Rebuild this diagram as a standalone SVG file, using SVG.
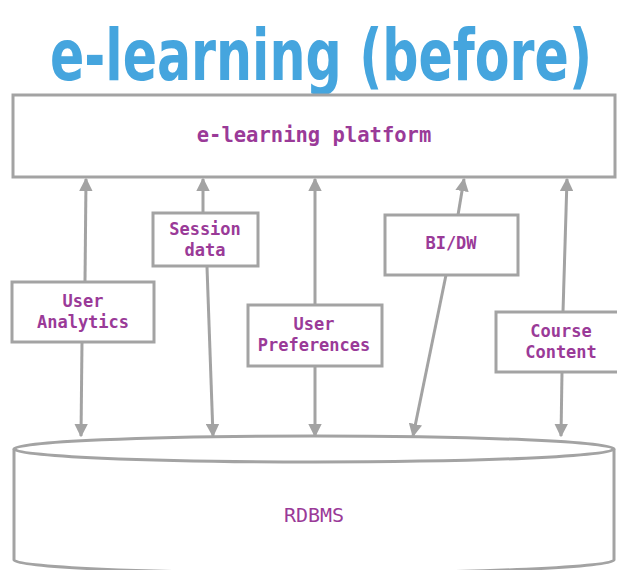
<svg xmlns="http://www.w3.org/2000/svg" width="617" height="570" viewBox="0 0 617 570">
<defs>
<marker id="ah" viewBox="0 0 10 10" refX="9" refY="5" markerWidth="4.5" markerHeight="4.5" orient="auto" markerUnits="strokeWidth">
<path d="M0,0 L10,5 L0,10 Z" fill="#a3a3a3"/>
</marker>
<style>
.box{fill:#fff;stroke:#a3a3a3;stroke-width:3}
.lbl{font-family:"DejaVu Sans Mono","Liberation Mono",monospace;font-weight:bold;font-size:17px;fill:#9a3a98;text-anchor:middle}
.big{font-size:20.5px}
.con{stroke:#a3a3a3;stroke-width:3;fill:none;marker-end:url(#ah)}
</style>
</defs>
<rect width="617" height="570" fill="#fff"/>
<text transform="translate(321,80) scale(1,1.3)" x="0" y="0" font-family="'DejaVu Sans Condensed','DejaVu Sans',sans-serif" font-weight="bold" font-size="55" fill="#45a5de" text-anchor="middle" textLength="542" lengthAdjust="spacingAndGlyphs">e-learning (before)</text>

<g id="rdbms">
<path class="box" d="M14,449 L14,560 A300,13 0 0 0 614,560 L614,449 A300,13 0 0 0 14,449 Z"/>
<path d="M14,449 A300,13 0 0 0 614,449" fill="none" stroke="#a3a3a3" stroke-width="3"/>
<text x="314" y="522" font-family="'DejaVu Sans Mono',monospace" font-size="20" fill="#9a3a98" text-anchor="middle">RDBMS</text>
</g>

<g id="connectors">
<line class="con" x1="85" y1="282" x2="86" y2="179"/>
<line class="con" x1="82" y1="342" x2="81" y2="436"/>
<line class="con" x1="203" y1="212" x2="203" y2="179"/>
<line class="con" x1="207" y1="267" x2="213" y2="436"/>
<line class="con" x1="315" y1="304" x2="315" y2="179"/>
<line class="con" x1="315" y1="366" x2="315" y2="436"/>
<line class="con" x1="458" y1="215" x2="464" y2="179"/>
<line class="con" x1="446" y1="275" x2="413" y2="436"/>
<line class="con" x1="563" y1="312" x2="567" y2="179"/>
<line class="con" x1="562" y1="372" x2="561" y2="436"/>
</g>

<g id="platform">
<rect class="box" x="13" y="95" width="602" height="82"/>
<text class="lbl big" x="314" y="142">e-learning platform</text>
</g>

<g id="user-analytics">
<rect class="box" x="12" y="282" width="142" height="60"/>
<text class="lbl" x="83" y="307">User</text>
<text class="lbl" x="83" y="328">Analytics</text>
</g>

<g id="session-data">
<rect class="box" x="153" y="213" width="105" height="53"/>
<text class="lbl" x="205" y="235">Session</text>
<text class="lbl" x="205" y="256">data</text>
</g>

<g id="user-preferences">
<rect class="box" x="248" y="305" width="134" height="61"/>
<text class="lbl" x="314" y="330">User</text>
<text class="lbl" x="314" y="351">Preferences</text>
</g>

<g id="bi-dw">
<rect class="box" x="385" y="215" width="133" height="60"/>
<text class="lbl" x="451" y="249">BI/DW</text>
</g>

<g id="course-content">
<rect class="box" x="496" y="312" width="124" height="60"/>
<text class="lbl" x="561" y="337">Course</text>
<text class="lbl" x="561" y="358">Content</text>
</g>
</svg>
